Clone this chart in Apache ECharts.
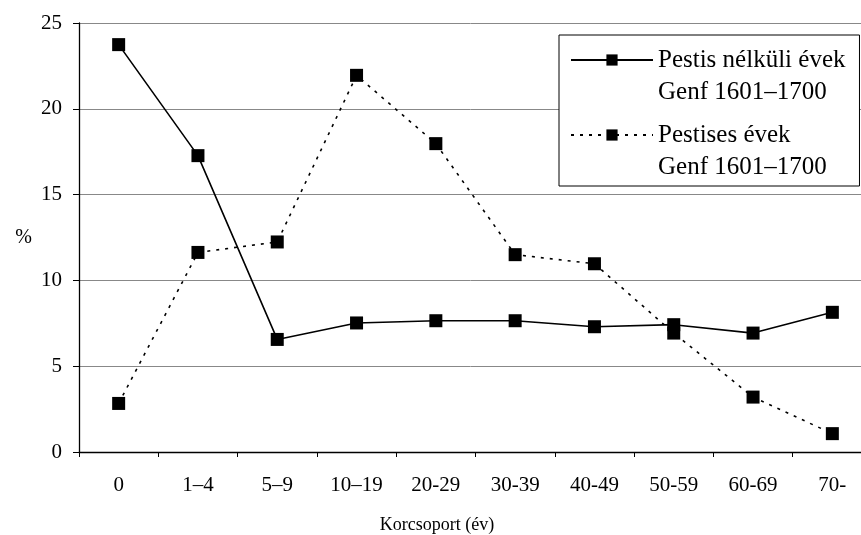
<!DOCTYPE html>
<html>
<head>
<meta charset="utf-8">
<script src="https://cdn.jsdelivr.net/npm/echarts@6/dist/echarts.min.js"></script>
<style>
html,body{margin:0;padding:0;background:#fff;}
#chart{width:861px;height:535px;}
</style>
</head>
<body>
<div id="chart"></div>
<script>
const categories = ['0', '1–4', '5–9', '10–19', '20-29', '30-39', '40-49', '50-59', '60-69', '70-'];
const nonPlagueYears = [23.74, 17.27, 6.56, 7.52, 7.65, 7.65, 7.30, 7.42, 6.93, 8.14];
const plagueYears = [2.83, 11.63, 12.24, 21.95, 17.97, 11.5, 10.97, 6.93, 3.2, 1.07];
const yTicks = [0, 5, 10, 15, 20, 25];
const seriesNames = ['Pestis nélküli évek\nGenf 1601–1700', 'Pestises évek\nGenf 1601–1700'];

const FONT = 'Liberation Serif';
const chart = echarts.init(document.getElementById('chart'), null, {renderer: 'canvas'});
chart.setOption({
  backgroundColor: '#fff',
  animation: false,
  textStyle: {fontFamily: FONT, color: '#000'},
  grid: {left: 79, top: 23, bottom: 83, width: 793, containLabel: false, outerBoundsMode: 'none'},
  legend: {
    show: true,
    orient: 'vertical',
    left: 559,
    top: 35,
    backgroundColor: '#fff',
    borderColor: '#000',
    borderWidth: 1,
    borderRadius: 0,
    padding: [-23, 14, 3, 11],
    itemWidth: 82,
    itemHeight: 14,
    itemGap: -21,
    data: seriesNames,
    formatter: function (name) { return '\n' + name; },
    textStyle: {fontFamily: FONT, fontSize: 25, color: '#000', lineHeight: 32}
  },
  xAxis: {
    type: 'category',
    data: categories,
    boundaryGap: true,
    name: 'Korcsoport (év)',
    nameLocation: 'middle',
    nameGap: 64,
    nameTextStyle: {fontFamily: FONT, fontSize: 18, color: '#000', verticalAlign: 'top', padding: [0, 77, 0, 0]},
    axisLine: {lineStyle: {color: '#000', width: 1.3}},
    axisTick: {show: true, inside: false, length: 5, alignWithLabel: false, lineStyle: {color: '#000'}},
    axisLabel: {fontFamily: FONT, fontSize: 21, color: '#000', margin: 23},
    splitLine: {show: false}
  },
  yAxis: {
    type: 'value',
    min: 0,
    max: 25,
    interval: 5,
    name: '%',
    nameLocation: 'middle',
    nameRotate: 0,
    nameGap: 47,
    nameTextStyle: {fontFamily: FONT, fontSize: 20, color: '#000'},
    axisLine: {show: true, lineStyle: {color: '#000', width: 1.3}},
    axisTick: {show: true, inside: false, length: 6, lineStyle: {color: '#000'}},
    axisLabel: {fontFamily: FONT, fontSize: 21, color: '#000', margin: 17,
      formatter: function (v) { return yTicks.indexOf(v) >= 0 ? String(v) : ''; }},
    splitLine: {show: true, lineStyle: {color: '#888', width: 1}}
  },
  series: [
    {
      name: seriesNames[0],
      type: 'line',
      data: nonPlagueYears,
      symbol: 'rect',
      symbolSize: 13,
      itemStyle: {color: '#000'},
      lineStyle: {color: '#000', width: 1.6, type: 'solid'},
      z: 3
    },
    {
      name: seriesNames[1],
      type: 'line',
      data: plagueYears,
      symbol: 'rect',
      symbolSize: 13,
      itemStyle: {color: '#000'},
      lineStyle: {color: '#000', width: 1.6, type: [3, 6]},
      z: 2
    }
  ]
});
</script>
</body>
</html>
